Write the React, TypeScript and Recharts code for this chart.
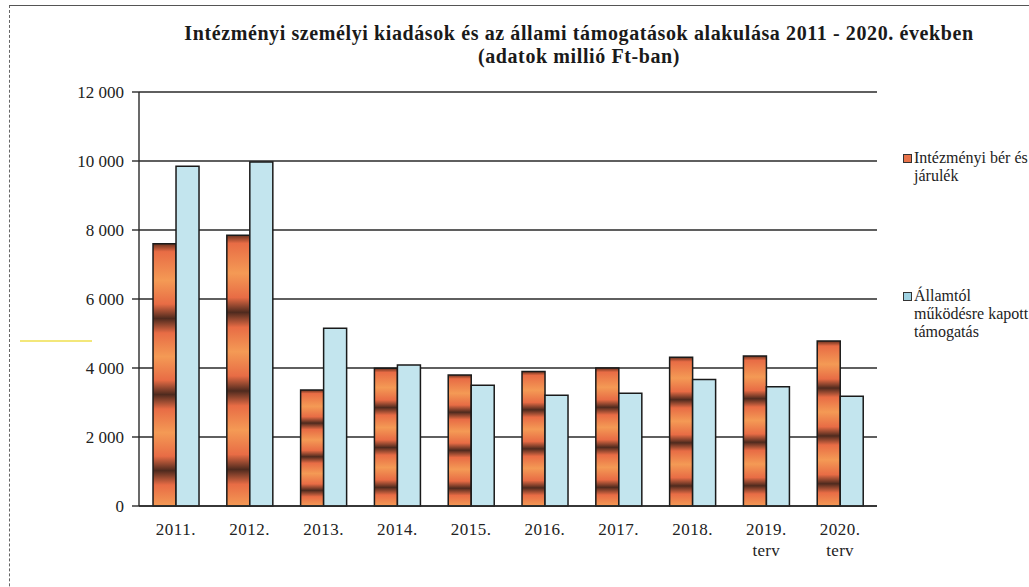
import React from "react";
import { BarChart, Bar, XAxis, YAxis, CartesianGrid } from "recharts";

const years = ["2011.", "2012.", "2013.", "2014.", "2015.", "2016.", "2017.", "2018.", "2019.", "2020."];
const subLabels = ["", "", "", "", "", "", "", "", "terv", "terv"];
const berJarulek = [7600, 7850, 3360, 3990, 3800, 3900, 4000, 4310, 4350, 4780];
const allamiTamogatas = [9850, 9970, 5150, 4090, 3500, 3210, 3270, 3670, 3460, 3180];
const yTicks = [0, 2000, 4000, 6000, 8000, 10000, 12000];

const seriesNames = ["Intézményi bér és\njárulék", "Államtól\nműködésre kapott\ntámogatás"];

const data = years.map((y, i) => ({
  year: y,
  sub: subLabels[i],
  ber: berJarulek[i],
  tam: allamiTamogatas[i],
}));

const serif = "'Liberation Serif', 'Times New Roman', serif";

const fmt = (v: number) => String(v).replace(/\B(?=(\d{3})+(?!\d))/g, " ");

function YearTick(props: any) {
  const { x, y, payload, index } = props;
  const sub = subLabels[index];
  return (
    <g transform={`translate(${x},${y})`}>
      <text x={0} y={0} dy={21} textAnchor="middle" fontFamily={serif} fontSize={17} letterSpacing={0.5} fill="#222">
        {payload.value}
      </text>
      {sub && (
        <text x={0} y={0} dy={42} textAnchor="middle" fontFamily={serif} fontSize={17} letterSpacing={0.3} fill="#222">
          {sub}
        </text>
      )}
    </g>
  );
}

export default function App() {
  return (
    <div style={{ position: "absolute", left: 0, top: 0, width: 1029, height: 587, overflow: "hidden", background: "#fff" }}>
      <svg width={0} height={0} style={{ position: "absolute" }}>
        <defs>
          <linearGradient id="orangeBand" x1="0" y1="0" x2="0" y2="1">
            <stop offset="0" stopColor="#6a321f" />
            <stop offset="0.03" stopColor="#e86c45" />
            <stop offset="0.14" stopColor="#f49a55" />
            <stop offset="0.23" stopColor="#e86c45" />
            <stop offset="0.285" stopColor="#4e2a1e" />
            <stop offset="0.34" stopColor="#e86c45" />
            <stop offset="0.43" stopColor="#f49a55" />
            <stop offset="0.52" stopColor="#e86c45" />
            <stop offset="0.575" stopColor="#4e2a1e" />
            <stop offset="0.63" stopColor="#e86c45" />
            <stop offset="0.72" stopColor="#f49a55" />
            <stop offset="0.81" stopColor="#e86c45" />
            <stop offset="0.865" stopColor="#4e2a1e" />
            <stop offset="0.92" stopColor="#e86c45" />
            <stop offset="1" stopColor="#f49a55" />
          </linearGradient>
        </defs>
      </svg>

      {/* scanned page frame */}
      <div style={{ position: "absolute", left: 9, top: 5, width: 1100, height: 700, borderTop: "1.5px solid #555", borderLeft: "1px dashed #666" }} />
      <div style={{ position: "absolute", left: 20, top: 340, width: 72, height: 2, background: "#f3e77a" }} />

      <div
        style={{
          position: "absolute",
          left: 129,
          width: 900,
          top: 22,
          textAlign: "center",
          fontFamily: serif,
          fontWeight: "bold",
          fontSize: 20,
          letterSpacing: 0.6,
          lineHeight: "23px",
          color: "#1a1a1a",
        }}
      >
        Intézményi személyi kiadások és az állami támogatások alakulása 2011 - 2020. években
        <br />
        (adatok millió Ft-ban)
      </div>

      <div style={{ position: "absolute", left: 0, top: 0 }}>
        <BarChart
          width={1100}
          height={620}
          data={data}
          margin={{ top: 92, right: 223, bottom: 74, left: 79 }}
          barCategoryGap="19%"
          barGap={0}
        >
          <CartesianGrid horizontal vertical={false} stroke="#2a2a2a" strokeWidth={1.4} />
          <XAxis
            dataKey="year"
            height={40}
            tickLine={false}
            axisLine={{ stroke: "#2a2a2a", strokeWidth: 1.4 }}
            tick={<YearTick />}
            interval={0}
          />
          <YAxis
            width={60}
            domain={[0, 12000]}
            ticks={yTicks}
            tickFormatter={fmt}
            tickSize={7}
            tickMargin={8}
            axisLine={{ stroke: "#2a2a2a", strokeWidth: 1.4 }}
            tickLine={{ stroke: "#2a2a2a", strokeWidth: 1.4 }}
            tick={{ fontFamily: serif, fontSize: 17, fill: "#222" }}
          />
          <Bar dataKey="ber" name={seriesNames[0]} fill="url(#orangeBand)" stroke="#1a1a1a" strokeWidth={1.5} isAnimationActive={false} />
          <Bar dataKey="tam" name={seriesNames[1]} fill="#c3e5ee" stroke="#1a1a1a" strokeWidth={1.5} isAnimationActive={false} />
        </BarChart>
      </div>

      {/* legend */}
      {[
        { top: 149, color: "#e8734a", lines: seriesNames[0].split("\n") },
        { top: 287, color: "#9fd2e2", lines: seriesNames[1].split("\n") },
      ].map((item, i) => (
        <div key={i} style={{ position: "absolute", left: 903, top: item.top, fontFamily: serif, fontSize: 16, lineHeight: "18px", color: "#222", whiteSpace: "nowrap" }}>
          <span
            style={{
              position: "absolute",
              left: 0,
              top: 5,
              width: 7,
              height: 7,
              background: item.color,
              border: "1px solid #333",
            }}
          />
          <div style={{ paddingLeft: 11 }}>
            {item.lines.map((l, j) => (
              <div key={j}>{l}</div>
            ))}
          </div>
        </div>
      ))}
    </div>
  );
}
